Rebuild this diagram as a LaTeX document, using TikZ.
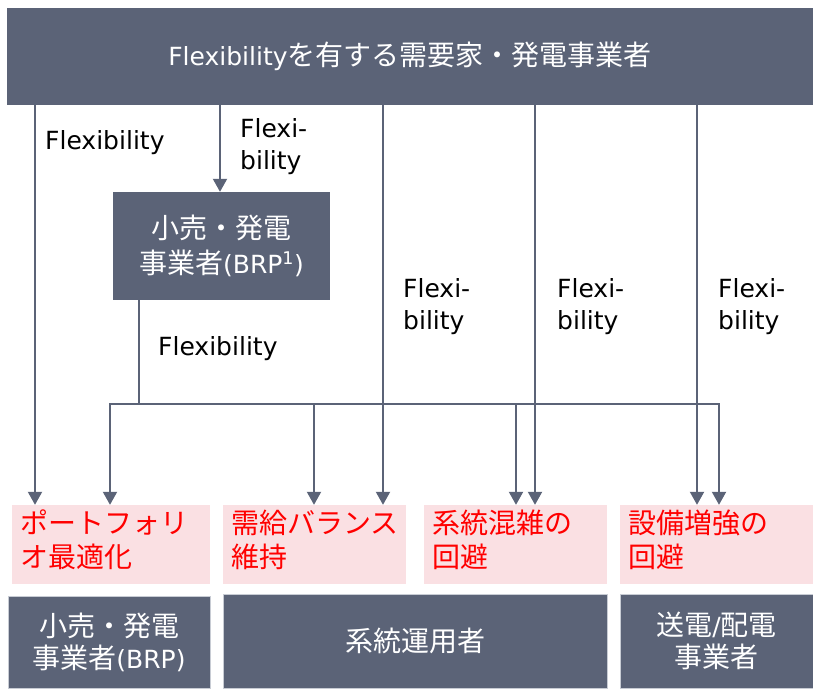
\documentclass[tikz,border=0pt]{standalone}
\usepackage{fontspec}
\setmainfont{DejaVu Sans}
\newfontfamily\jp{Noto Sans CJK JP}[Scale=1.12]
\usetikzlibrary{arrows.meta}
\definecolor{slate}{RGB}{91,99,119}
\definecolor{pinkbg}{RGB}{250,224,227}
\definecolor{redtxt}{RGB}{255,0,0}
\definecolor{edgegray}{RGB}{200,204,212}
\begin{document}
\begin{tikzpicture}[x=1pt,y=-1pt,
  font=\fontsize{25}{33}\selectfont,
  darkbox/.style={fill=slate, text=white, inner sep=0, align=center},
  botbox/.style={darkbox, draw=edgegray, line width=0.8pt},
  pinkbox/.style={fill=pinkbg, inner sep=0},
  redlabel/.style={text=redtxt, anchor=west, align=left, inner sep=0, font=\fontsize{25}{34}\selectfont\jp},
  flexlabel/.style={text=black, anchor=west, align=left, inner sep=0, font=\fontsize{25}{32}\selectfont},
  conn/.style={draw=slate, line width=2pt},
  arr/.style={conn, -{Triangle[length=13pt,width=14pt]}}]
\useasboundingbox (0,0) rectangle (813,688);

% boxes
\node[darkbox, minimum width=806pt, minimum height=97pt] (top) at (410,56.5)
  {Flexibility{\jp を有する需要家・発電事業者}};
\node[darkbox, minimum width=217pt, minimum height=108pt, font=\fontsize{25}{35}\selectfont] (brp) at (221.5,246)
  {{\jp 小売・発電}\\{\jp 事業者}(BRP\textsuperscript{1})};

\node[pinkbox, minimum width=198pt, minimum height=79pt] (pf) at (111,544.5) {};
\node[pinkbox, minimum width=183pt, minimum height=79pt] (sd) at (314.5,544.5) {};
\node[pinkbox, minimum width=183pt, minimum height=79pt] (cg) at (515.5,544.5) {};
\node[pinkbox, minimum width=193pt, minimum height=79pt] (eq) at (716.5,544.5) {};

\node[redlabel] (pft) at (20,539.5) {ポートフォリ\\オ最適化};
\node[redlabel] (sdt) at (231,539.5) {需給バランス\\維持};
\node[redlabel] (cgt) at (432,539.5) {系統混雑の\\回避};
\node[redlabel] (eqt) at (628,539.5) {設備増強の\\回避};

\node[botbox, minimum width=202pt, minimum height=92pt, font=\fontsize{25}{32}\selectfont] (b1) at (109,642)
  {{\jp 小売・発電}\\{\jp 事業者}(BRP)};
\node[botbox, minimum width=384pt, minimum height=94pt] (b2) at (415,641)
  {{\jp 系統運用者}};
\node[botbox, minimum width=193pt, minimum height=94pt, font=\fontsize{25}{32}\selectfont] (b3) at (716.5,641)
  {{\jp 送電}/{\jp 配電}\\{\jp 事業者}};

% labels
\node[flexlabel] (l1) at (45,143) {Flexibility};
\node[flexlabel] (l2) at (240,147) {Flexi-\\bility};
\node[flexlabel] (l3) at (158,349) {Flexibility};
\node[flexlabel] (l4) at (403,307) {Flexi-\\bility};
\node[flexlabel] (l5) at (557,307) {Flexi-\\bility};
\node[flexlabel] (l6) at (718,307) {Flexi-\\bility};

% x positions of connectors
\coordinate (x1) at (35,0);
\coordinate (x2) at (220,0);
\coordinate (x3) at (383,0);
\coordinate (x4) at (535,0);
\coordinate (x5) at (697,0);
\coordinate (j) at (139,404);
\coordinate (d1) at (110,404);
\coordinate (d2) at (314,404);
\coordinate (d3) at (516,404);
\coordinate (d4) at (719,404);

% direct connectors from the top bar
\draw[arr] (top.south -| x1) -- (pf.north -| x1);
\draw[arr] (top.south -| x2) -- (brp.north -| x2);
\draw[arr] (top.south -| x3) -- (sd.north -| x3);
\draw[arr] (top.south -| x4) -- (cg.north -| x4);
\draw[arr] (top.south -| x5) -- (eq.north -| x5);

% connectors from BRP
\draw[conn] (brp.south -| j) -- (j);
\draw[arr, line join=miter] (j) -- (d1) -- (pf.north -| d1);
\draw[arr, line join=miter] (d1) -- (d4) -- (eq.north -| d4);
\draw[arr] (d2) -- (sd.north -| d2);
\draw[arr] (d3) -- (cg.north -| d3);
\end{tikzpicture}
\end{document}
